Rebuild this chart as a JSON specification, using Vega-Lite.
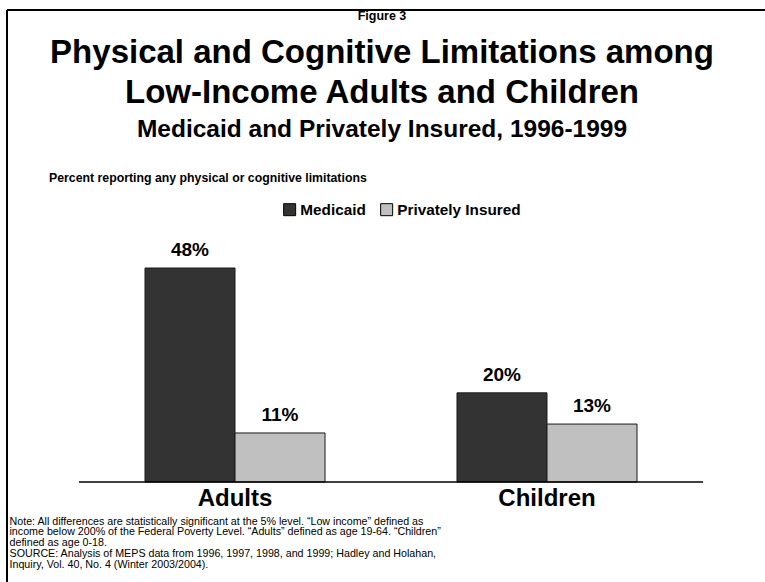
{
  "$schema": "https://vega.github.io/schema/vega-lite/v6.json",
  "width": 758,
  "height": 572,
  "autosize": "none",
  "padding": {"left": 7, "top": 10, "right": 0, "bottom": 0},
  "background": "white",
  "config": {
    "font": "Liberation Sans",
    "view": {"stroke": null}
  },
  "title": {
    "text": ["Physical and Cognitive Limitations among", "Low-Income Adults and Children"],
    "subtitle": "Medicaid and Privately Insured, 1996-1999",
    "anchor": "middle",
    "frame": "group",
    "orient": "top",
    "offset": -131,
    "dx": -4,
    "font": "Liberation Sans",
    "fontSize": 33,
    "fontWeight": "bold",
    "color": "black",
    "lineHeight": 40,
    "subtitleFont": "Liberation Sans",
    "subtitleFontSize": 24.5,
    "subtitleFontWeight": "bold",
    "subtitleColor": "black",
    "subtitlePadding": 8
  },
  "data": {
    "values": [
      {"Group": "Adults", "Series": "Medicaid", "Value": 0.48},
      {"Group": "Adults", "Series": "Privately Insured", "Value": 0.11},
      {"Group": "Children", "Series": "Medicaid", "Value": 0.20},
      {"Group": "Children", "Series": "Privately Insured", "Value": 0.13}
    ]
  },
  "resolve": {"axis": {"x": "independent", "y": "independent"}},
  "layer": [
    {
      "mark": {"type": "bar", "stroke": "#1a1a1a", "strokeWidth": 1},
      "encoding": {
        "x": {
          "field": "Group",
          "type": "nominal",
          "sort": ["Adults", "Children"],
          "scale": {"paddingInner": 0.423, "paddingOuter": 0.4263, "align": 0.5188},
          "axis": {
            "orient": "bottom",
            "offset": -100,
            "domain": false,
            "ticks": false,
            "tickSize": 0,
            "labelAngle": 0,
            "labelPadding": 16,
            "labelBaseline": "middle",
            "labelFontSize": 24,
            "labelFontWeight": "bold",
            "labelColor": "black",
            "title": [
              "Note: All differences are statistically significant at the 5% level.  \u201cLow income\u201d defined as",
              "income below 200% of the Federal Poverty Level.  \u201cAdults\u201d defined as age 19-64.  \u201cChildren\u201d",
              "defined as age 0-18.",
              "SOURCE: Analysis of MEPS data from 1996, 1997, 1998, and 1999; Hadley and Holahan,",
              "Inquiry, Vol. 40, No. 4 (Winter 2003/2004)."
            ],
            "titleFontSize": 10.7,
            "titleFontWeight": "normal",
            "titleColor": "black",
            "titleAnchor": "start",
            "titleAlign": "left",
            "titleBaseline": "top",
            "titleLineHeight": 10.8,
            "titleX": 2,
            "titleY": 34
          }
        },
        "xOffset": {
          "field": "Series",
          "type": "nominal",
          "sort": ["Medicaid", "Privately Insured"],
          "scale": {"paddingInner": 0, "paddingOuter": 0}
        },
        "y": {
          "field": "Value",
          "type": "quantitative",
          "scale": {"domain": [-0.2243, 1.0588], "nice": false, "zero": false},
          "axis": {
            "orient": "left",
            "labels": false,
            "ticks": false,
            "grid": false,
            "domain": true,
            "domainColor": "black",
            "domainWidth": 2,
            "translate": 0,
            "title": "Percent reporting any physical or cognitive limitations",
            "titleAngle": 0,
            "titleAlign": "left",
            "titleBaseline": "middle",
            "titleX": 42,
            "titleY": 168,
            "titleFontSize": 12.3,
            "titleFontWeight": "bold",
            "titleColor": "black"
          }
        },
        "y2": {"datum": 0},
        "color": {
          "field": "Series",
          "type": "nominal",
          "scale": {"domain": ["Medicaid", "Privately Insured"], "range": ["#333333", "#C0C0C0"]},
          "legend": {
            "orient": "none",
            "legendX": 275,
            "legendY": 192,
            "direction": "horizontal",
            "title": null,
            "padding": 0,
            "symbolType": "square",
            "symbolSize": 144,
            "symbolStrokeColor": "black",
            "symbolStrokeWidth": 1,
            "symbolOpacity": 1,
            "labelFontSize": 15.3,
            "labelFontWeight": "bold",
            "labelColor": "black",
            "labelOffset": 3,
            "columnPadding": 12
          }
        }
      }
    },
    {
      "mark": {"type": "text", "fontSize": 19, "fontWeight": "bold", "color": "black", "baseline": "alphabetic", "dy": -12},
      "encoding": {
        "x": {
          "field": "Group",
          "type": "nominal",
          "sort": ["Adults", "Children"],
          "axis": {
            "orient": "top",
            "labels": false,
            "ticks": false,
            "grid": false,
            "domain": true,
            "domainColor": "black",
            "domainWidth": 2,
            "translate": 0,
            "title": "Figure 3",
            "titleFontSize": 12.5,
            "titleFontWeight": "bold",
            "titleColor": "black",
            "titleAlign": "center",
            "titleBaseline": "middle",
            "titleX": 375,
            "titleY": 6
          }
        },
        "xOffset": {"field": "Series", "type": "nominal", "sort": ["Medicaid", "Privately Insured"]},
        "y": {"field": "Value", "type": "quantitative", "axis": null},
        "text": {"field": "Value", "type": "quantitative", "format": ".0%"}
      }
    },
    {
      "data": {"values": [{}]},
      "mark": {"type": "rule", "color": "black", "strokeWidth": 1.5},
      "encoding": {
        "x": {"datum": "Adults", "bandPosition": -0.367, "axis": null},
        "x2": {"datum": "Children", "bandPosition": 1.367},
        "y": {"datum": 0, "axis": null}
      }
    }
  ]
}
